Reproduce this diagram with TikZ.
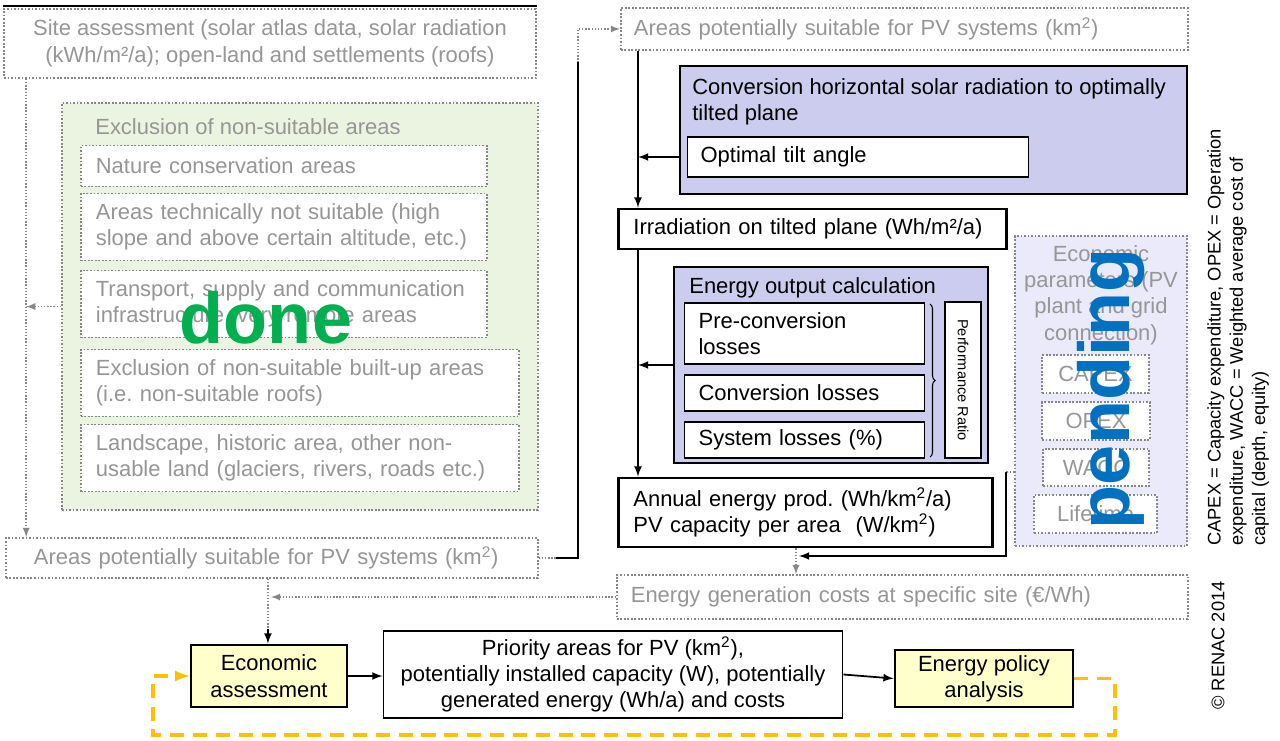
\documentclass[tikz,border=0pt]{standalone}
\usepackage{fontspec}
\setmainfont{Liberation Sans}
\usetikzlibrary{arrows}
\usetikzlibrary{positioning, decorations.pathreplacing}
\frenchspacing

\definecolor{greytext}{RGB}{150,150,150}
\definecolor{greyrule}{RGB}{135,135,135}
\definecolor{lavender}{RGB}{204,204,238}
\definecolor{palegreen}{RGB}{234,244,224}
\definecolor{palelav}{RGB}{234,234,250}
\definecolor{paleyellow}{RGB}{255,255,204}
\definecolor{donegreen}{RGB}{0,176,80}
\definecolor{pendblue}{RGB}{0,112,192}
\definecolor{amber}{RGB}{255,192,0}

\newcommand{\fsz}{\fontsize{12.5}{15}\selectfont}

\tikzset{
  greybox/.style={draw=greyrule, densely dotted, line width=1pt, fill=white, text=greytext,
    font=\fsz, align=left, anchor=west, inner xsep=0.3cm, inner ysep=1pt},
  exbox/.style={greybox, minimum width=8.12cm, text width=7.52cm},
  exwide/.style={greybox, minimum width=8.76cm, text width=8.16cm},
  parbox/.style={greybox, anchor=center, align=center, minimum height=0.75cm},
  heavybox/.style={draw, line width=1.6pt, fill=white, font=\fsz, align=left, anchor=west,
    inner xsep=0.3cm, inner ysep=1pt},
  blackbox/.style={draw, line width=0.7pt, fill=white, font=\fsz, align=left, anchor=west,
    inner xsep=0.28cm, inner ysep=1pt},
  yellowbox/.style={draw, line width=1.6pt, fill=paleyellow, font=\fsz, align=center, inner ysep=1pt},
  greyline/.style={draw=greyrule, densely dotted, line width=0.8pt},
  greyarrow/.style={greyline, -latex},
  blackline/.style={draw=black, line width=1pt},
  blackarrow/.style={blackline, -latex},
  feedback/.style={draw=amber, line width=1.8pt, dash pattern=on 8pt off 5pt, -latex}
}

\begin{document}
\begin{tikzpicture}[x=0.02cm, y=-0.02cm]
\useasboundingbox (0,0) rectangle (1280,740);
%% site assessment and exclusion steps
  \node[greybox, align=center, anchor=center, minimum width=10.64cm, minimum height=1.38cm] (site) at (270,43.5)
    {Site assessment (solar atlas data, solar radiation\\(kWh/m²/a); open-land and settlements (roofs)};
  \draw[line width=0.8pt] ([yshift=0.04cm]site.north west) -- ([yshift=0.04cm]site.north east);
  \node[greybox, fill=palegreen, anchor=center, minimum width=9.52cm, minimum height=8.14cm] (excl) at (300,306.5) {};
  \node[anchor=west, inner sep=0, text=greytext, font=\fsz] (excltitle) at (95,127) {Exclusion of non-suitable areas};
  \node[exbox, minimum height=0.82cm] (nature) at (80,166) {Nature conservation areas};
  \node[exbox, minimum height=1.34cm] (slope) at (80,227) {Areas technically not suitable (high\\slope and above certain altitude, etc.)};
  \node[exbox, minimum height=1.34cm] (infra) at (80,304) {Transport, supply and communication\\infrastructure, very remote areas};
  \node[exwide, minimum height=1.34cm] (builtup) at (80,383) {Exclusion of non-suitable built-up areas\\(i.e. non-suitable roofs)};
  \node[exwide, minimum height=1.34cm] (landscape) at (80,458) {Landscape, historic area, other non-\\usable land (glaciers, rivers, roads etc.)};
  \node[text=donegreen, font=\fontsize{41}{41}\selectfont\bfseries] (done) at (266,318) {done};
  \node[greybox, minimum width=10.64cm, minimum height=0.8cm, inner xsep=0.56cm, text width=9.52cm] (areasA) at (5,558)
    {Areas potentially suitable for PV systems (km\textsuperscript{2})};
%% energy yield chain
  \node[greybox, minimum width=11.34cm, minimum height=0.84cm, inner xsep=0.26cm, text width=10.82cm] (areasB) at (620,29)
    {Areas potentially suitable for PV systems (km\textsuperscript{2})};
  \node[heavybox, fill=lavender, anchor=center, minimum width=10.14cm, minimum height=2.56cm] (convert) at (933.5,130) {};
  \node[anchor=west, inner sep=0, font=\fsz, align=left] (converttitle) at (692,102)
    {Conversion horizontal solar radiation to optimally\\tilted plane};
  \node[blackbox, minimum width=6.82cm, minimum height=0.8cm, inner xsep=0.26cm, text width=6.3cm] (tilt) at (687,157) {Optimal tilt angle};
  \node[heavybox, minimum width=7.76cm, minimum height=0.8cm, text width=7.16cm] (irrad) at (617,229) {Irradiation on tilted plane (Wh/m²/a)};
  \node[heavybox, fill=lavender, anchor=center, minimum width=6.28cm, minimum height=3.92cm] (output) at (831,365) {};
  \node[anchor=west, inner sep=0, font=\fsz] (outputtitle) at (689,288) {Energy output calculation};
  \node[blackbox, minimum width=4.8cm, minimum height=1.22cm, text width=4.24cm] (preconv) at (684,333.5) {Pre-conversion\\losses};
  \node[blackbox, minimum width=4.8cm, minimum height=0.72cm, text width=4.24cm] (convloss) at (684,393) {Conversion losses};
  \node[blackbox, minimum width=4.8cm, minimum height=0.72cm, text width=4.24cm] (sysloss) at (684,440) {System losses (\%)};
  \node[blackbox, rotate=-90, anchor=center, align=center, inner sep=0, minimum width=3.12cm, minimum height=0.72cm,
    font=\fontsize{8.3}{10}\selectfont] (ratio) at (963,380) {Performance Ratio};
  \draw[decorate, decoration={brace, amplitude=0.1cm}, line width=0.6pt] (930,304) -- (930,457);
  \node[heavybox, minimum width=7.48cm, minimum height=1.38cm, text width=6.88cm] (annual) at (617,512.5)
    {Annual energy prod. (Wh/km\textsuperscript{2}/a)\\PV capacity per area~~(W/km\textsuperscript{2})};
%% economic parameters
  \node[greybox, fill=palelav, anchor=center, minimum width=3.44cm, minimum height=6.2cm] (econpar) at (1101,391) {};
  \node[text=greytext, font=\fsz, align=center] (econpartitle) at (1101,295) {Economic\\parameters (PV\\plant and grid\\connection)};
  \node[parbox, minimum width=2.14cm] (capex) at (1095.5,374) {CAPEX};
  \node[parbox, minimum width=2.16cm] (opex) at (1096,421) {OPEX};
  \node[parbox, minimum width=2.12cm] (wacc) at (1096,467.5) {WACC};
  \node[parbox, minimum width=2.46cm] (lifetime) at (1095.5,514) {Lifetime};
  \node[rotate=90, text=pendblue, font=\fontsize{41}{41}\selectfont\bfseries] (pending) at (1111,389) {pending};
  \node[greybox, minimum width=11.42cm, minimum height=0.88cm, inner xsep=0.28cm, text width=10.86cm] (cost) at (616,597)
    {Energy generation costs at specific site (€/Wh)};
%% assessment row
  \node[yellowbox, minimum width=3.12cm, minimum height=1.24cm] (econ) at (269,676) {Economic\\assessment};
  \node[draw, line width=0.6pt, fill=white, align=center, font=\fsz, inner ysep=1pt, minimum width=9.2cm, minimum height=1.74cm] (priority) at (613,674.5)
    {Priority areas for PV (km\textsuperscript{2}),\\potentially installed capacity (W), potentially\\generated energy (Wh/a) and costs};
  \node[yellowbox, minimum width=3.56cm, minimum height=1.14cm] (policy) at (984,678.5) {Energy policy\\analysis};
%% side notes
  \node[rotate=90, anchor=north west, align=left, inner sep=0, font=\fontsize{10.4}{12.7}\selectfont] (abbrev) at (1207,546)
    {CAPEX = Capacity expenditure, OPEX = Operation\\expenditure, WACC = Weighted average cost of\\capital (depth, equity)};
  \node[rotate=90, anchor=west, inner sep=0, font=\fontsize{10.4}{12.7}\selectfont] (copyr) at (1218,710) {© RENAC 2014};
%% connectors
  \coordinate (leftrail) at ([xshift=0.46cm]site.south west);
  \draw[greyarrow] (leftrail) -- (leftrail |- areasA.north);
  \draw[greyarrow] (excl.west) -- (excl.west -| leftrail);
  \coordinate (bend) at (578,558);
  \coordinate (bendfoot) at (556,558);
  \coordinate (bendtop) at (578,62);
  \draw[greyarrow] (areasA.east) -- (bend) |- (areasB.west);
  \draw[blackline] (bendfoot) -- (bend) -- (bendtop);
  \coordinate (trunk) at ([xshift=0.36cm]areasB.south west);
  \draw[blackarrow] (trunk) -- (trunk |- irrad.north);
  \draw[blackarrow] (convert.west |- tilt.west) -- (trunk |- tilt.west);
  \draw[blackarrow] (trunk |- irrad.south) -- (trunk |- annual.north);
  \draw[blackarrow] (output.west) -- (output.west -| trunk);
  \coordinate (drop) at ([xshift=3.58cm]annual.south west);
  \draw[greyarrow] (drop) -- (drop |- cost.north);
  \coordinate (parout) at (1006,472);
  \coordinate (parturn) at (1006,556);
  \draw[greyline] (econpar.west |- parout) -- (parout);
  \draw[blackarrow] (parout) -- (parturn) -- ([xshift=0.06cm]drop |- parturn);
  \coordinate (rail) at ([xshift=5.26cm]areasA.south west);
  \coordinate (railjoin) at ([yshift=-1cm]rail);
  \draw[greyline] (rail) -- (railjoin);
  \draw[blackarrow] (railjoin) -- (railjoin |- econ.north);
  \draw[greyarrow] (cost.west) -- ([xshift=0.06cm]cost.west -| rail);
  \draw[blackarrow] (econ.east) -- (econ.east -| priority.west);
  \draw[blackarrow] (priority.east) -- (policy.west);
  \coordinate (fbright) at (1115,735);
  \coordinate (fbleft) at (153,735);
  \draw[feedback] (policy.east) -| (fbright) -- (fbleft) |- (econ.west);
\end{tikzpicture}
\end{document}
